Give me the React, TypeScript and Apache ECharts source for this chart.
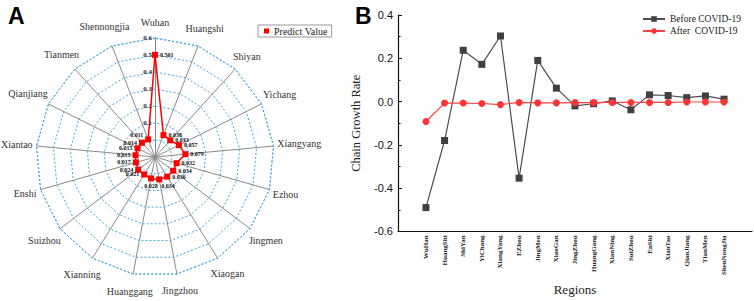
import React, { useEffect, useRef } from 'react';
import * as echarts from 'echarts';

// Panel A (radar) – clockwise order from the top
const radarRegions = ['Wuhan', 'Huangshi', 'Shiyan', 'Yichang', 'Xiangyang', 'Ezhou', 'Jingmen', 'Xiaogan', 'Jingzhou', 'Huanggang', 'Xianning', 'Suizhou', 'Enshi', 'Xiantao', 'Qianjiang', 'Tianmen', 'Shennongjia'];
const predictValues = [0.501, 0.038, 0.033, 0.057, 0.079, 0.032, 0.034, 0.036, 0.034, 0.028, 0.021, 0.024, 0.017, 0.015, 0.015, 0.014, 0.011];
const radarMin = -0.1;
const radarMax = 0.6;

// Panel B (line chart)
const lineRegions = ['WuHan', 'HuangShi', 'ShiYan', 'YiChang', 'XiangYang', 'EZhou', 'JingMen', 'XiaoGan', 'JingZhou', 'HuangGang', 'XianNing', 'SuiZhou', 'EnShi', 'XianTao', 'QianJiang', 'TianMen', 'ShenNongJia'];
const beforeCovid = [-0.49, -0.18, 0.237, 0.172, 0.303, -0.354, 0.19, 0.062, -0.02, -0.01, 0.003, -0.038, 0.031, 0.028, 0.018, 0.026, 0.011];
const afterCovid = [-0.092, -0.007, -0.007, -0.009, -0.014, -0.004, -0.006, -0.006, -0.005, -0.005, -0.004, -0.004, -0.004, -0.004, -0.002, -0.002, -0.002];
const yMin = -0.6;
const yMax = 0.4;
const yInterval = 0.2;

// ECharts places radar indicators counter-clockwise, so reverse all but the first
const radarOrder = [radarRegions[0], ...radarRegions.slice(1).reverse()];
const radarValues = [predictValues[0], ...predictValues.slice(1).reverse()];

// where each value label sits relative to its point
const labelPlacements: Record<string, any> = {
  right: 'right',
  left: 'left',
  bottom: 'bottom',
  bottomRight: [5, 7],
  upperLeft: [-15, -4],
};
const placementOf: Record<string, string> = {
  Shennongjia: 'upperLeft',
  Tianmen: 'left',
  Qianjiang: 'left',
  Xiantao: 'left',
  Enshi: 'left',
  Suizhou: 'left',
  Xianning: 'left',
  Huanggang: 'bottom',
  Jingzhou: 'bottomRight',
};
function labelSide(dim: number): string {
  return placementOf[radarOrder[dim]] || 'right';
}

const xCats = [' ', ...lineRegions, '  '];

const serif = 'Liberation Serif';
const nameFontSize = 10;

function measure(text: string): number {
  try {
    const c = document.createElement('canvas').getContext('2d');
    if (!c) return text.length * 5;
    c.font = `${nameFontSize}px "${serif}"`;
    return c.measureText(text).width;
  } catch (e) {
    return text.length * 5;
  }
}

const labelBase = {
  show: true,
  fontSize: 6,
  fontWeight: 'bold',
  fontFamily: serif,
  color: '#111',
  distance: 2,
};

function buildIndicators() {
  const n = radarOrder.length;
  return radarOrder.map((name, i) => {
    const theta = (i * 2 * Math.PI) / n;
    const s = Math.abs(Math.sin(theta));
    const w = measure(name);
    const gap = 16 + Math.max(0, s * (w / 2 - 12));
    return {
      name,
      min: radarMin,
      max: radarMax,
      nameGap: gap,
      nameTextStyle: { align: 'center', verticalAlign: 'middle' },
      axisLabel: { show: i === 0 },
    };
  });
}

function labelSeries(side: string, visible: boolean): any {
  const nm = visible ? 'Predict Value' : 'Predict Value ' + side;
  return {
    type: 'radar',
    name: nm,
    radarIndex: 0,
    symbol: 'rect',
    symbolSize: 6,
    lineStyle: visible ? { color: '#ff0000', width: 1.5 } : { color: 'rgba(0,0,0,0)', width: 0 },
    itemStyle: { color: visible ? '#ff0000' : 'rgba(0,0,0,0)' },
    label: {
      ...labelBase,
      position: labelPlacements[side],
      formatter: (p: any) => (labelSide(p.dimensionIndex) === side ? Number(p.value).toFixed(3) : ''),
    },
    data: [{ name: nm, value: radarValues }],
  };
}

function buildOption(): any {
  return {
    animation: false,
    backgroundColor: '#fff',
    title: [
      { text: 'A', left: 3, top: -1, textStyle: { fontSize: 23, fontWeight: 'bold', fontFamily: 'Liberation Sans', color: '#000' } },
      { text: 'B', left: 350, top: -1, textStyle: { fontSize: 23, fontWeight: 'bold', fontFamily: 'Liberation Sans', color: '#000' } },
    ],
    legend: [
      {
        data: ['Predict Value'],
        left: 258,
        top: 25,
        orient: 'vertical',
        icon: 'rect',
        itemWidth: 5,
        itemHeight: 5,
        itemGap: 0,
        padding: [1, 4, 1, 6],
        borderColor: '#999',
        borderWidth: 1,
        textStyle: { fontFamily: serif, fontSize: 10, color: '#222' },
      },
      {
        data: ['Before COVID-19', 'After  COVID-19'],
        left: 642,
        top: 14,
        orient: 'vertical',
        itemWidth: 22,
        itemHeight: 7,
        itemGap: 2,
        padding: 0,
        textStyle: { fontFamily: serif, fontSize: 9.5, color: '#222' },
      },
    ],
    radar: {
      center: [155, 157],
      radius: 119,
      startAngle: 90,
      shape: 'polygon',
      splitNumber: 7,
      nameGap: 16,
      indicator: buildIndicators(),
      axisName: { color: '#333', fontFamily: serif, fontSize: nameFontSize },
      axisLine: { lineStyle: { color: '#8a8a8a', width: 1 } },
      splitLine: { lineStyle: { color: '#3aa8e8', type: [2, 2], width: 1 } },
      splitArea: { show: false },
      axisTick: { show: false },
      axisLabel: {
        show: true,
        fontSize: 7,
        fontWeight: 'bold',
        fontFamily: serif,
        color: '#333',
        margin: 3,
        formatter: (v: number) => (v > 0.05 ? v.toFixed(1) : ''),
      },
    },
    grid: { left: 398, top: 15, right: 2, bottom: 49 },
    xAxis: [
      {
        type: 'category',
        data: xCats,
        position: 'bottom',
        boundaryGap: true,
        name: 'Regions',
        nameLocation: 'middle',
        nameGap: 38,
        nameTextStyle: { fontFamily: serif, fontSize: 13, color: '#222' },
        axisLine: { onZero: false, lineStyle: { color: '#111', width: 1.2 } },
        axisTick: { alignWithLabel: true, length: 4, lineStyle: { color: '#111' } },
        axisLabel: { interval: 0, rotate: 90, fontSize: 7, fontWeight: 'bold', fontFamily: serif, color: '#222', margin: 4 },
        splitLine: { show: false },
      },
      {
        type: 'category',
        data: xCats,
        position: 'bottom',
        boundaryGap: true,
        axisLine: { show: false, onZero: false },
        axisTick: { length: 2.5, lineStyle: { color: '#111' } },
        axisLabel: { show: false },
        splitLine: { show: false },
      },
    ],
    yAxis: {
      type: 'value',
      min: yMin,
      max: yMax,
      interval: yInterval,
      name: 'Chain Growth Rate',
      nameLocation: 'middle',
      nameGap: 36,
      nameTextStyle: { fontFamily: serif, fontSize: 12.5, color: '#222' },
      axisLine: { show: true, lineStyle: { color: '#111', width: 1.2 } },
      axisTick: { show: true, inside: true, length: 4, lineStyle: { color: '#111' } },
      minorTick: { show: true, splitNumber: 2, length: 2.5, lineStyle: { color: '#111' } },
      axisLabel: { fontFamily: 'Liberation Sans', fontSize: 11, color: '#111', margin: 5, formatter: (v: number) => v.toFixed(1) },
      splitLine: { show: false },
    },
    series: [
      labelSeries('right', true),
      labelSeries('left', false),
      labelSeries('bottom', false),
      labelSeries('bottomRight', false),
      labelSeries('upperLeft', false),
      {
        type: 'line',
        name: 'Before COVID-19',
        xAxisIndex: 0,
        yAxisIndex: 0,
        symbol: 'rect',
        symbolSize: 7,
        lineStyle: { color: '#4d4d4d', width: 1.2 },
        itemStyle: { color: '#404040' },
        data: lineRegions.map((r, i) => [r, beforeCovid[i]]),
      },
      {
        type: 'line',
        name: 'After  COVID-19',
        xAxisIndex: 0,
        yAxisIndex: 0,
        symbol: 'circle',
        symbolSize: 7,
        lineStyle: { color: '#ff4040', width: 1.2 },
        itemStyle: { color: '#ff3333' },
        data: lineRegions.map((r, i) => [r, afterCovid[i]]),
      },
    ],
  };
}

export default function App() {
  const ref = useRef<HTMLDivElement>(null);
  useEffect(() => {
    const chart = echarts.init(ref.current!, null, { renderer: 'svg' });
    chart.setOption(buildOption());
    return () => chart.dispose();
  }, []);
  return <div ref={ref} style={{ position: 'fixed', left: 0, top: 0, width: 754, height: 301, background: '#fff' }} />;
}
